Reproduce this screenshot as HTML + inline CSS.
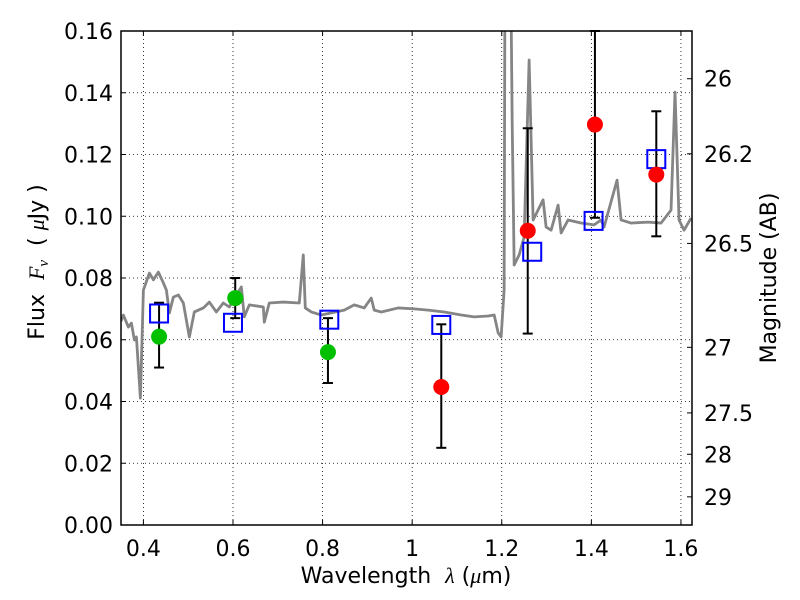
<!DOCTYPE html>
<html><head><meta charset="utf-8"><style>
body{margin:0;background:#fff}
svg{display:block;font-family:"DejaVu Sans","Liberation Sans",sans-serif}
</style></head><body>
<svg id="chart" width="800" height="600" viewBox="0 0 800 600">
<rect width="800" height="600" fill="#fff"/>
<defs><clipPath id="clip"><rect x="121" y="31" width="571" height="494"/></clipPath></defs>
<g id="grid"></g>
<g id="spec" clip-path="url(#clip)"></g>
<g id="marks"></g>
<g id="axes"></g>
<text x="406" y="583" font-size="22" text-anchor="middle">Wavelength&#160;&#160;<tspan font-family="Liberation Serif,serif" font-style="italic">λ</tspan>&#160;(<tspan font-family="Liberation Serif,serif" font-style="italic">μ</tspan>m)</text>
<text transform="translate(44,262) rotate(-90)" font-size="22" text-anchor="middle">Flux&#160;&#160;<tspan font-family="Liberation Serif,serif" font-style="italic">F<tspan font-size="15" dy="4">ν</tspan></tspan><tspan dy="-4">&#160;&#160;(&#160;</tspan><tspan font-family="Liberation Serif,serif" font-style="italic">μ</tspan>Jy&#160;)</text>
<text transform="translate(776,278) rotate(-90)" font-size="22" text-anchor="middle">Magnitude (AB)</text>
</svg>
<script>
const xTicks=[0.4,0.6,0.8,1,1.2,1.4,1.6];
const xTickLabels=["0.4","0.6","0.8","1","1.2","1.4","1.6"];
const yTicks=[0,0.02,0.04,0.06,0.08,0.10,0.12,0.14,0.16];
const yTickLabels=["0.00","0.02","0.04","0.06","0.08","0.10","0.12","0.14","0.16"];
const magTicks=[26,26.2,26.5,27,27.5,28,29];
const magTickLabels=["26","26.2","26.5","27","27.5","28","29"];
const specWave=[0.35,0.3554,0.3665,0.3732,0.3799,0.3844,0.3933,0.4000,0.4134,0.4223,0.4334,0.4446,0.4513,0.4580,0.4669,0.4781,0.4892,0.5026,0.5137,0.5338,0.5472,0.5628,0.5784,0.5918,0.6074,0.6186,0.6253,0.6364,0.6677,0.6699,0.6810,0.7123,0.7480,0.7569,0.7614,0.7748,0.7971,0.8194,0.8484,0.8707,0.8930,0.9086,0.9153,0.9310,0.9689,1.0046,1.0358,1.0715,1.1094,1.1384,1.1697,1.1831,1.1920,1.1986,1.2053,1.2075,1.2187,1.2232,1.2277,1.2389,1.2500,1.2611,1.2700,1.2923,1.2990,1.3102,1.3258,1.3325,1.3481,1.3771,1.4061,1.4217,1.4284,1.4574,1.4664,1.4887,1.5266,1.5556,1.5779,1.5868,1.5958,1.6069,1.6226];
const specFlux=[0.066,0.0680,0.0641,0.0654,0.0599,0.0609,0.0411,0.0761,0.0816,0.0794,0.0819,0.0784,0.0761,0.0687,0.0738,0.0745,0.0719,0.0609,0.0690,0.0703,0.0722,0.0690,0.0719,0.0706,0.0745,0.0771,0.0674,0.0713,0.0706,0.0657,0.0719,0.0722,0.0719,0.0875,0.0703,0.0690,0.0680,0.0687,0.0696,0.0713,0.0703,0.0735,0.0696,0.0690,0.0703,0.0700,0.0696,0.0690,0.0680,0.0674,0.0677,0.0680,0.0622,0.0609,0.0761,0.2,0.2,0.1312,0.0842,0.0875,0.0933,0.1506,0.0988,0.1053,0.0965,0.0955,0.1036,0.0946,0.0988,0.0978,0.0972,0.0988,0.0965,0.1117,0.0988,0.0978,0.0981,0.0978,0.1020,0.1402,0.0988,0.0955,0.0994];
const greenWave=[0.435,0.605,0.812];
const greenFlux=[0.061,0.0735,0.056];
const greenLo=[0.051,0.067,0.046];
const greenHi=[0.072,0.080,0.067];
const redWave=[1.065,1.258,1.408,1.545];
const redFlux=[0.0447,0.0953,0.1297,0.1135];
const redLo=[0.025,0.062,0.0995,0.0935];
const redHi=[0.065,0.1285,0.160,0.134];
const modelWave=[0.435,0.6,0.815,1.065,1.268,1.405,1.545];
const modelFlux=[0.0685,0.0655,0.0665,0.0648,0.0885,0.0985,0.1185];

const L=121,R=692,T=31,B=525,X0=0.35,X1=1.6247,Y0=0,Y1=0.16;
const sx=v=>L+(v-X0)/(X1-X0)*(R-L);
const sy=v=>B-(v-Y0)/(Y1-Y0)*(B-T);
const magToFlux=m=>Math.pow(10,(23.9-m)/2.5);
const NS="http://www.w3.org/2000/svg";
function mk(tag,attrs,parent,txt){const e=document.createElementNS(NS,tag);for(const k in attrs)e.setAttribute(k,attrs[k]);if(txt!==undefined)e.textContent=txt;parent.appendChild(e);return e;}
const grid=document.getElementById('grid'),spec=document.getElementById('spec'),marks=document.getElementById('marks'),axes=document.getElementById('axes');
xTicks.forEach((t,i)=>{const x=sx(t);
 const g=mk('line',{x1:x,x2:x,y1:T,y2:B,stroke:'#000','stroke-width':0.8,'stroke-dasharray':'1,3'},grid);
 
 mk('line',{x1:x,x2:x,y1:B,y2:B-5,stroke:'#000'},axes);mk('line',{x1:x,x2:x,y1:T,y2:T+5,stroke:'#000'},axes);
 const lb=mk('text',{x:x,y:B+31,'font-size':22,'text-anchor':'middle'},axes,xTickLabels[i]);
 });
yTicks.forEach((t,i)=>{const y=sy(t);
 const g=mk('line',{x1:L,x2:R,y1:y,y2:y,stroke:'#000','stroke-width':0.8,'stroke-dasharray':'1,3'},grid);
 
 mk('line',{x1:L,x2:L+5,y1:y,y2:y,stroke:'#000'},axes);
 const lb=mk('text',{x:L-8,y:y+8,'font-size':22,'text-anchor':'end'},axes,yTickLabels[i]);
 });
magTicks.forEach((m,i)=>{const y=sy(magToFlux(m));
 mk('line',{x1:R,x2:R-5,y1:y,y2:y,stroke:'#000'},axes);
 const lb=mk('text',{x:R+12,y:y+8,'font-size':22},axes,magTickLabels[i]);
 });
const p=mk('polyline',{points:specWave.map((w,i)=>sx(w)+','+sy(specFlux[i])).join(' '),fill:'none',stroke:'#858585','stroke-width':2.8,'stroke-linejoin':'round'},spec);

function errbar(w,lo,hi){const x=sx(w);
 const e=mk('g',{stroke:'#000','stroke-width':2},marks);
 
 mk('line',{x1:x,x2:x,y1:sy(lo),y2:sy(hi)},e);
 mk('line',{x1:x-5,x2:x+5,y1:sy(lo),y2:sy(lo)},e);
 mk('line',{x1:x-5,x2:x+5,y1:sy(hi),y2:sy(hi)},e);}
greenWave.forEach((w,i)=>errbar(w,greenLo[i],greenHi[i]));
redWave.forEach((w,i)=>errbar(w,redLo[i],redHi[i]));
modelWave.forEach((w,i)=>{const r=mk('rect',{x:sx(w)-9,y:sy(modelFlux[i])-9,width:18,height:18,fill:'none',stroke:'#0000ff','stroke-width':2},marks);
 });
greenWave.forEach((w,i)=>{const c=mk('circle',{cx:sx(w),cy:sy(greenFlux[i]),r:8,fill:'#00c000'},marks);
 });
redWave.forEach((w,i)=>{const c=mk('circle',{cx:sx(w),cy:sy(redFlux[i]),r:8,fill:'#ff0000'},marks);
 });
const fr=mk('rect',{x:L,y:T,width:R-L,height:B-T,fill:'none',stroke:'#000','stroke-width':1.5},axes);

</script>
</body></html>
